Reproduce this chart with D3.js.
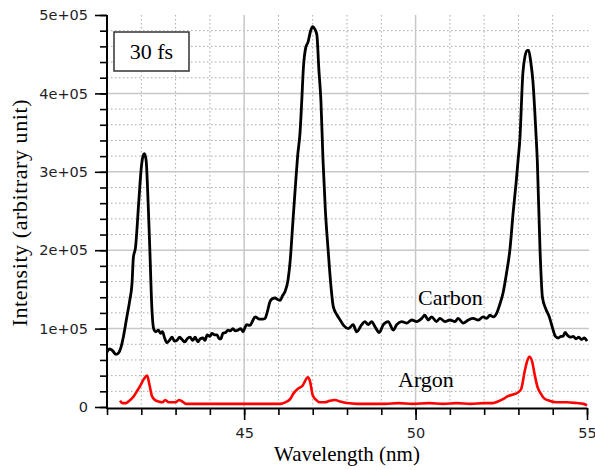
<!DOCTYPE html>
<html>
<head>
<meta charset="utf-8">
<script src="https://cdn.jsdelivr.net/npm/d3@7"></script>
<style>
  body { margin: 0; background: #fff; }
  svg { display: block; }
</style>
</head>
<body>
<div id="chart"></div>
<script>
// wavelength (nm) / intensity pairs
var carbonX = [41.00, 41.08, 41.16, 41.26, 41.34, 41.40, 41.48, 41.58, 41.66, 41.73, 41.77, 41.83, 41.93, 42.00, 42.05, 42.09, 42.14, 42.20, 42.25, 42.31, 42.36, 42.42, 42.50, 42.56, 42.62, 42.68, 42.75, 42.82, 42.90, 42.97, 43.04, 43.12, 43.19, 43.27, 43.34, 43.42, 43.50, 43.57, 43.65, 43.72, 43.80, 43.86, 43.92, 44.00, 44.06, 44.14, 44.21, 44.27, 44.32, 44.38, 44.46, 44.53, 44.60, 44.67, 44.75, 44.82, 44.90, 44.97, 45.03, 45.08, 45.17, 45.25, 45.32, 45.40, 45.46, 45.54, 45.61, 45.68, 45.75, 45.82, 45.90, 45.98, 46.05, 46.12, 46.19, 46.28, 46.34, 46.42, 46.50, 46.56, 46.63, 46.68, 46.73, 46.80, 46.86, 46.94, 47.00, 47.06, 47.12, 47.18, 47.24, 47.30, 47.37, 47.45, 47.52, 47.60, 47.70, 47.80, 47.90, 48.04, 48.18, 48.28, 48.43, 48.52, 48.62, 48.72, 48.82, 48.94, 49.06, 49.20, 49.35, 49.45, 49.59, 49.74, 49.89, 50.03, 50.18, 50.27, 50.37, 50.47, 50.61, 50.71, 50.86, 51.00, 51.15, 51.24, 51.39, 51.54, 51.68, 51.83, 51.97, 52.07, 52.17, 52.27, 52.36, 52.45, 52.55, 52.65, 52.75, 52.85, 52.93, 52.99, 53.04, 53.13, 53.19, 53.26, 53.30, 53.36, 53.42, 53.51, 53.55, 53.63, 53.70, 53.80, 53.90, 54.00, 54.08, 54.16, 54.24, 54.30, 54.36, 54.44, 54.52, 54.60, 54.68, 54.76, 54.84, 54.92, 55.00];
var carbonY = [0.70, 0.74, 0.72, 0.67, 0.69, 0.75, 0.90, 1.15, 1.35, 1.58, 1.91, 2.03, 2.64, 3.05, 3.20, 3.23, 3.15, 2.60, 2.00, 1.25, 1.00, 0.96, 0.98, 0.94, 0.96, 0.88, 0.82, 0.85, 0.89, 0.84, 0.85, 0.89, 0.86, 0.83, 0.87, 0.89, 0.85, 0.89, 0.83, 0.87, 0.88, 0.85, 0.92, 0.90, 0.94, 0.92, 0.92, 0.87, 0.87, 0.94, 0.95, 0.98, 0.97, 1.00, 0.97, 0.98, 1.00, 0.96, 1.02, 1.05, 1.04, 1.10, 1.15, 1.13, 1.12, 1.12, 1.13, 1.22, 1.34, 1.38, 1.39, 1.37, 1.36, 1.42, 1.47, 1.62, 1.85, 2.35, 2.85, 3.20, 3.50, 3.90, 4.34, 4.59, 4.65, 4.80, 4.85, 4.82, 4.75, 4.30, 3.90, 3.15, 2.50, 2.00, 1.60, 1.28, 1.18, 1.11, 1.04, 1.00, 1.05, 0.96, 1.05, 1.09, 1.05, 1.09, 1.02, 0.95, 1.05, 1.09, 0.98, 1.05, 1.09, 1.07, 1.11, 1.09, 1.13, 1.17, 1.11, 1.15, 1.09, 1.13, 1.09, 1.11, 1.09, 1.13, 1.07, 1.11, 1.13, 1.11, 1.15, 1.13, 1.17, 1.15, 1.19, 1.30, 1.45, 1.70, 2.00, 2.50, 2.85, 3.15, 3.40, 4.26, 4.47, 4.55, 4.55, 4.40, 4.17, 3.50, 3.15, 2.00, 1.40, 1.25, 1.15, 1.00, 0.90, 0.88, 0.90, 0.90, 0.95, 0.91, 0.89, 0.90, 0.87, 0.89, 0.86, 0.88, 0.84];

var argonX = [41.38, 41.45, 41.55, 41.65, 41.77, 41.90, 41.98, 42.08, 42.17, 42.24, 42.31, 42.40, 42.50, 42.62, 42.70, 42.80, 42.90, 43.00, 43.10, 43.20, 43.30, 43.60, 44.00, 44.40, 44.80, 45.20, 45.60, 46.05, 46.20, 46.34, 46.45, 46.56, 46.70, 46.86, 46.92, 47.00, 47.10, 47.20, 47.35, 47.50, 47.65, 47.80, 48.00, 48.30, 48.70, 49.10, 49.50, 49.90, 50.40, 50.80, 51.20, 51.60, 52.00, 52.26, 52.40, 52.55, 52.70, 52.85, 53.00, 53.08, 53.18, 53.25, 53.32, 53.40, 53.48, 53.56, 53.64, 53.75, 53.90, 54.10, 54.40, 54.70, 54.90, 55.00];
var argonY = [0.08, 0.05, 0.05, 0.08, 0.13, 0.22, 0.28, 0.36, 0.40, 0.28, 0.14, 0.09, 0.07, 0.06, 0.09, 0.06, 0.06, 0.06, 0.09, 0.07, 0.04, 0.04, 0.04, 0.04, 0.04, 0.04, 0.04, 0.04, 0.06, 0.10, 0.18, 0.23, 0.27, 0.38, 0.33, 0.15, 0.09, 0.06, 0.06, 0.08, 0.09, 0.07, 0.05, 0.04, 0.04, 0.04, 0.05, 0.04, 0.05, 0.04, 0.05, 0.04, 0.05, 0.05, 0.07, 0.10, 0.14, 0.16, 0.19, 0.23, 0.45, 0.58, 0.64, 0.58, 0.40, 0.25, 0.18, 0.11, 0.08, 0.06, 0.06, 0.05, 0.04, 0.02];

var yMajor = [0, 100000, 200000, 300000, 400000, 500000];
var yTickLabels = ["0", "1e+05", "2e+05", "3e+05", "4e+05", "5e+05"];
var xMajor = [45, 50, 55];
var xMinor = [41, 42, 43, 44, 45, 46, 47, 48, 49, 50, 51, 52, 53, 54, 55];

var width = 595, height = 470;
var margin = { top: 15, right: 8, bottom: 63, left: 107 };

var svg = d3.select('#chart')
  .append('svg')
  .attr('width', width)
  .attr('height', height);

var x = d3.scaleLinear()
  .domain([41, 55])
  .range([margin.left, width - margin.right]);

var y = d3.scaleLinear()
  .domain([0, 500000])
  .range([height - margin.bottom, margin.top]);

var yMinor = d3.range(0, 500001, 20000);

// dotted minor grid
var grid = svg.append('g').attr('class', 'grid');
grid.selectAll('.hminor')
  .data(yMinor.filter(function(d) { return d % 100000 != 0; }))
  .enter().append('line')
  .attr('x1', x(41)).attr('x2', x(55) + 2)
  .attr('y1', function(d) { return y(d); })
  .attr('y2', function(d) { return y(d); })
  .attr('stroke', '#aaa')
  .attr('stroke-width', 1)
  .attr('stroke-dasharray', '1.5,2.5');

grid.selectAll('.vminor')
  .data(xMinor.filter(function(d) { return xMajor.indexOf(d) < 0 && d != 41; }))
  .enter().append('line')
  .attr('x1', function(d) { return x(d); })
  .attr('x2', function(d) { return x(d); })
  .attr('y1', y(500000)).attr('y2', y(0))
  .attr('stroke', '#aaa')
  .attr('stroke-width', 1)
  .attr('stroke-dasharray', '1.5,2.5');

// solid major grid
grid.selectAll('.hmajor')
  .data([100000, 200000, 300000, 400000])
  .enter().append('line')
  .attr('x1', x(41)).attr('x2', x(55) + 2)
  .attr('y1', function(d) { return y(d); })
  .attr('y2', function(d) { return y(d); })
  .attr('stroke', '#c8c8c8')
  .attr('stroke-width', 1.5);

grid.selectAll('.vmajor')
  .data([45, 50])
  .enter().append('line')
  .attr('x1', function(d) { return x(d); })
  .attr('x2', function(d) { return x(d); })
  .attr('y1', y(500000)).attr('y2', y(0))
  .attr('stroke', '#c8c8c8')
  .attr('stroke-width', 1.5);

// spectra
var line = d3.line()
  .x(function(d) { return x(d[0]); })
  .y(function(d) { return y(d[1] * 100000); })
  .curve(d3.curveMonotoneX);

var carbon = carbonX.map(function(v, i) { return [v, carbonY[i]]; });
var argon = argonX.map(function(v, i) { return [v, argonY[i]]; });

svg.append('path')
  .datum(argon)
  .attr('d', line)
  .attr('fill', 'none')
  .attr('stroke', '#ff0000')
  .attr('stroke-width', 2.6)
  .attr('stroke-linejoin', 'round');

svg.append('path')
  .datum(carbon)
  .attr('d', line)
  .attr('fill', 'none')
  .attr('stroke', '#000')
  .attr('stroke-width', 2.8)
  .attr('stroke-linejoin', 'round');

// axes
var axisY = height - margin.bottom + 1;

svg.append('g')
  .attr('transform', 'translate(' + margin.left + ',0)')
  .call(d3.axisLeft(y).tickValues(yMinor).tickSize(7).tickSizeOuter(0).tickFormat(''))
  .call(function(g) { g.select('.domain').remove(); });

var yAxis = svg.append('g')
  .attr('transform', 'translate(' + margin.left + ',0)')
  .call(d3.axisLeft(y).tickValues(yMajor).tickSize(12).tickSizeOuter(0).tickPadding(7)
    .tickFormat(function(d, i) { return yTickLabels[i]; }));
yAxis.select('.domain').attr('d', 'M0,' + y(500000) + 'V' + (axisY + 1));

svg.append('g')
  .attr('transform', 'translate(0,' + axisY + ')')
  .call(d3.axisBottom(x).tickValues(xMinor).tickSize(7).tickSizeOuter(0).tickFormat(''))
  .call(function(g) { g.select('.domain').remove(); });

svg.append('g')
  .attr('transform', 'translate(0,' + axisY + ')')
  .call(d3.axisBottom(x).tickValues(xMajor).tickSize(12).tickSizeOuter(0).tickPadding(8)
    .tickFormat(d3.format('d')));

svg.selectAll('.domain').attr('stroke', '#000').attr('stroke-width', 2);
svg.selectAll('.tick line').attr('stroke', '#000').attr('stroke-width', 1.6);
svg.selectAll('.tick text')
  .attr('font-family', 'DejaVu Sans, sans-serif')
  .attr('font-size', 14.5)
  .attr('fill', '#1e1e28');

// axis titles
svg.append('text')
  .attr('x', x(48))
  .attr('y', 461)
  .attr('text-anchor', 'middle')
  .attr('font-family', 'Liberation Serif, serif')
  .attr('font-size', 21)
  .text('Wavelength (nm)');

svg.append('text')
  .attr('transform', 'translate(27,' + ((y(0) + y(500000)) / 2 + 2) + ') rotate(-90)')
  .attr('text-anchor', 'middle')
  .attr('font-family', 'Liberation Serif, serif')
  .attr('font-size', 22)
  .attr('textLength', 227)
  .text('Intensity (arbitrary unit)');

// annotations
svg.append('rect')
  .attr('x', 114).attr('y', 32)
  .attr('width', 75).attr('height', 39)
  .attr('fill', '#fff')
  .attr('stroke', '#333')
  .attr('stroke-width', 1.5);

svg.append('text')
  .attr('x', 151.5).attr('y', 59)
  .attr('text-anchor', 'middle')
  .attr('font-family', 'Liberation Serif, serif')
  .attr('font-size', 22)
  .text('30 fs');

svg.append('text')
  .attr('x', 418).attr('y', 305)
  .attr('font-family', 'Liberation Serif, serif')
  .attr('font-size', 22)
  .text('Carbon');

svg.append('text')
  .attr('x', 398).attr('y', 387)
  .attr('font-family', 'Liberation Serif, serif')
  .attr('font-size', 22)
  .text('Argon');
</script>
</body>
</html>
